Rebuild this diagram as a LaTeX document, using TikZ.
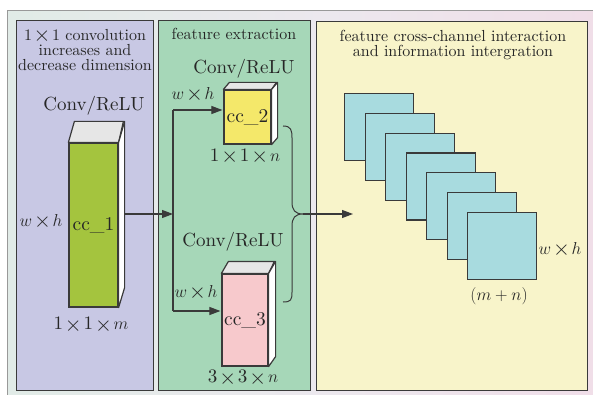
\documentclass[tikz,border=0pt]{standalone}
\usepackage{fontspec}
\usepackage{graphicx}
\setmainfont{lmroman10-regular.otf}[ItalicFont=lmroman10-italic.otf]
\usetikzlibrary{arrows.meta,calc}
\definecolor{ink}{HTML}{3A3A3A}
\definecolor{txt}{HTML}{262626}
\definecolor{bgl}{HTML}{D6EEE0}
\definecolor{bgm}{HTML}{ECE8EE}
\definecolor{bgr}{HTML}{F4D2E2}
\definecolor{pone}{HTML}{C8C8E4}
\definecolor{ptwo}{HTML}{A6D7B8}
\definecolor{pthree}{HTML}{F8F4CA}
\definecolor{cgreen}{HTML}{A4C43E}
\definecolor{cyellow}{HTML}{F4E86A}
\definecolor{cpink}{HTML}{F7C9CC}
\definecolor{topg}{HTML}{E6E6E6}
\definecolor{sqc}{HTML}{A8DBDF}
\pgfdeclarehorizontalshading{bgshade}{100bp}{color(0bp)=(bgl); color(52bp)=(bgm); color(100bp)=(bgr)}
\newcommand{\tm}{\ensuremath{{\times}}}
\newcommand{\tms}{\hspace{0.1em}\raisebox{-0.06em}{\scalebox{1.25}{\ensuremath{{\times}}}}\hspace{0.1em}}
\begin{document}
\begin{tikzpicture}[x=1pt,y=-1pt,
  panel/.style={draw=ink, line width=1.3pt, inner sep=0pt, anchor=north west},
  cube/.style={draw=ink, line width=1.2pt, inner sep=0pt, text=txt, font=\fontsize{19.5}{21}\selectfont},
  face/.style={draw=ink, line width=1.2pt, line join=round},
  sq/.style={draw=ink, fill=sqc, line width=1.2pt, minimum width=69pt, minimum height=67pt, inner sep=0pt, anchor=north west},
  ttl/.style={text=txt, font=\fontsize{16}{15}\selectfont, align=center, inner sep=0pt},
  lbl/.style={text=txt, font=\fontsize{19}{21}\selectfont, inner sep=0pt},
  arr/.style={draw=ink, line width=1.1pt, -{Triangle[length=11pt,width=8pt]}},
  ln/.style={draw=ink, line width=1.1pt}
]
\useasboundingbox (0,0) rectangle (593,395);
\fill[white] (0,0) rectangle (593,395);
\shade[shading=bgshade] (7,11) rectangle (598,400);
\draw[gray!80, line width=1pt] (7,400) -- (7,11) -- (598,11);

% panels
\node[panel, fill=pone, minimum width=137pt, minimum height=370pt] (p1) at (16,20) {};
\node[panel, fill=ptwo, minimum width=152pt, minimum height=370pt] (p2) at (158,20) {};
\node[panel, fill=pthree, minimum width=271pt, minimum height=369pt] (p3) at (316,21) {};

% titles
\node[ttl] (t1) at (85,50) {1\tms1 convolution\\increases and\\decrease dimension};
\node[ttl] (t2) at (234,34) {feature extraction};
\node[ttl] (t3) at (453,45) {feature cross-channel interaction\\and information intergration};

% cc_1
\node[cube, fill=cgreen, minimum width=49pt, minimum height=164pt] (cc1) at (93.5,225) {cc\_1};
\draw[face, fill=topg] (cc1.north west) -- ++(6,-21) -- ++(49,0) -- (cc1.north east) -- cycle;
\draw[face, fill=white] (cc1.north east) -- ++(6,-21) -- ($(cc1.south east)+(6,-20)$) -- (cc1.south east) -- cycle;
\node[lbl] (c1a) at (94,106) {Conv/ReLU};
\node[lbl] (c1w) at (41,222) {$w$\tms$h$};
\node[lbl] (c1d) at (91,325) {1\tms1\tms$m$};

% cc_2
\node[cube, fill=cyellow, minimum width=47pt, minimum height=54pt] (cc2) at (247.5,117) {cc\_2};
\draw[face, fill=topg] (cc2.north west) -- ++(6,-7) -- ++(47,0) -- (cc2.north east) -- cycle;
\draw[face, fill=white] (cc2.north east) -- ++(6,-7) -- ($(cc2.south east)+(6,-7)$) -- (cc2.south east) -- cycle;
\node[lbl] (c2a) at (244,69) {Conv/ReLU};
\node[lbl] (c2w) at (193,95) {$w$\tms$h$};
\node[lbl] (c2d) at (245,157) {1\tms1\tms$n$};

% cc_3
\node[cube, fill=cpink, minimum width=46pt, minimum height=92pt] (cc3) at (245,320) {cc\_3};
\draw[face, fill=topg] (cc3.north west) -- ++(7,-12) -- ++(46,0) -- (cc3.north east) -- cycle;
\draw[face, fill=white] (cc3.north east) -- ++(7,-12) -- ($(cc3.south east)+(7,-10)$) -- (cc3.south east) -- cycle;
\node[lbl] (c3a) at (233,242) {Conv/ReLU};
\node[lbl] (c3w) at (196,293) {$w$\tms$h$};
\node[lbl] (c3d) at (243,378) {3\tms3\tms$n$};

% connectors
\coordinate (jm) at (173,214);
\coordinate (jt) at (173,110);
\coordinate (jb) at (173,311);
\coordinate (o1) at (124,214);
\draw[arr] (o1) -- (jm);
\draw[ln] (jt) -- (jb);
\draw[arr] (jt) -- ($(cc2.west |- jt)+(-1,0)$);
\draw[arr] (jb) -- ($(cc3.west |- jb)+(-1,0)$);

% brace
\coordinate (bt) at (303,214);
\draw[ln, line width=1pt] (283,126) .. controls (291,126) and (292,130) .. (292,138) -- (292,202)
  .. controls (292,210) and (295,214) .. (bt)
  .. controls (295,214) and (292,218) .. (292,226) -- (292,292)
  .. controls (292,300) and (291,302) .. (283,302);
\coordinate (ae) at (353,214);
\draw[arr] (bt) -- (ae);

% feature maps
\foreach \i in {0,...,6} {
  \node[sq] (sq\i) at ({344+20.5*\i},{93+19.8*\i}) {};
}
\node[lbl] (sqw) at (560,250) {$w$\tms$h$};
\node[lbl] (sqd) at (499,296) {$(m+n)$};
\end{tikzpicture}
\end{document}
